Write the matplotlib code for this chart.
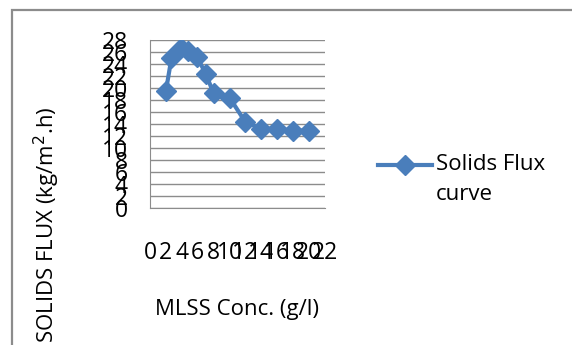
import matplotlib.pyplot as plt
import matplotlib.patches as patches
from matplotlib.lines import Line2D

plt.rcParams['font.family'] = ['Open Sans', 'DejaVu Sans']

# MLSS concentration (g/l) and solids flux (kg/m2.h)
mlss = [2, 2.7, 3.9, 4.8, 5.9, 7, 8, 10, 12, 14, 16, 18, 20]
flux = [19.5, 25, 26.7, 26.1, 25.2, 22.4, 19.1, 18.4, 14.3, 13.2, 13.2, 12.9, 12.9]
x_ticks = list(range(0, 23, 2))
y_ticks = list(range(0, 29, 2))

blue = '#4a7ebb'

fig = plt.figure(figsize=(5.72, 3.45), dpi=100)
ax = fig.add_axes([150 / 572, 1 - 208 / 345, 175 / 572, 168 / 345])

# outer chart frame
fig.patches.append(patches.Rectangle((12 / 572, -0.1), 1.2, 1 - 10 / 345 + 0.1,
                                     transform=fig.transFigure, fill=False,
                                     edgecolor='#8c8c8c', linewidth=1.6))

ax.plot(mlss, flux, color=blue, linewidth=3, marker='D', markersize=10.5)

ax.set_xlim(0, 22)
ax.set_ylim(0, 28)
ax.set_xticks(x_ticks)
ax.set_yticks(y_ticks)
ax.grid(axis='y', color='#8c8c8c', linewidth=1)
ax.set_axisbelow(True)
for s in ['top', 'right']:
    ax.spines[s].set_visible(False)
for s in ['left', 'bottom']:
    ax.spines[s].set_color('#8c8c8c')
ax.tick_params(axis='both', length=0, labelsize=16.5)
ax.tick_params(axis='y', pad=16)
ax.tick_params(axis='x', pad=24)

ax.set_xlabel('MLSS Conc. (g/l)', fontsize=16, labelpad=24)
fig.text(47 / 572, 1 - 225 / 345, 'SOLIDS FLUX (kg/m$^2$.h)', rotation=90,
         fontsize=16, ha='center', va='center')

# legend: handle beside the first line of the two-line label
fig.add_artist(Line2D([378 / 572, 432 / 572], [1 - 165 / 345] * 2, color=blue,
                      linewidth=3, transform=fig.transFigure))
fig.add_artist(Line2D([405 / 572], [1 - 165 / 345], color=blue, marker='D',
                      markersize=10, transform=fig.transFigure))
fig.text(436 / 572, 1 - 165 / 345, 'Solids Flux', fontsize=16, va='center')
fig.text(436 / 572, 1 - 195 / 345, 'curve', fontsize=16, va='center')

fig.savefig('out.png', dpi=100)
